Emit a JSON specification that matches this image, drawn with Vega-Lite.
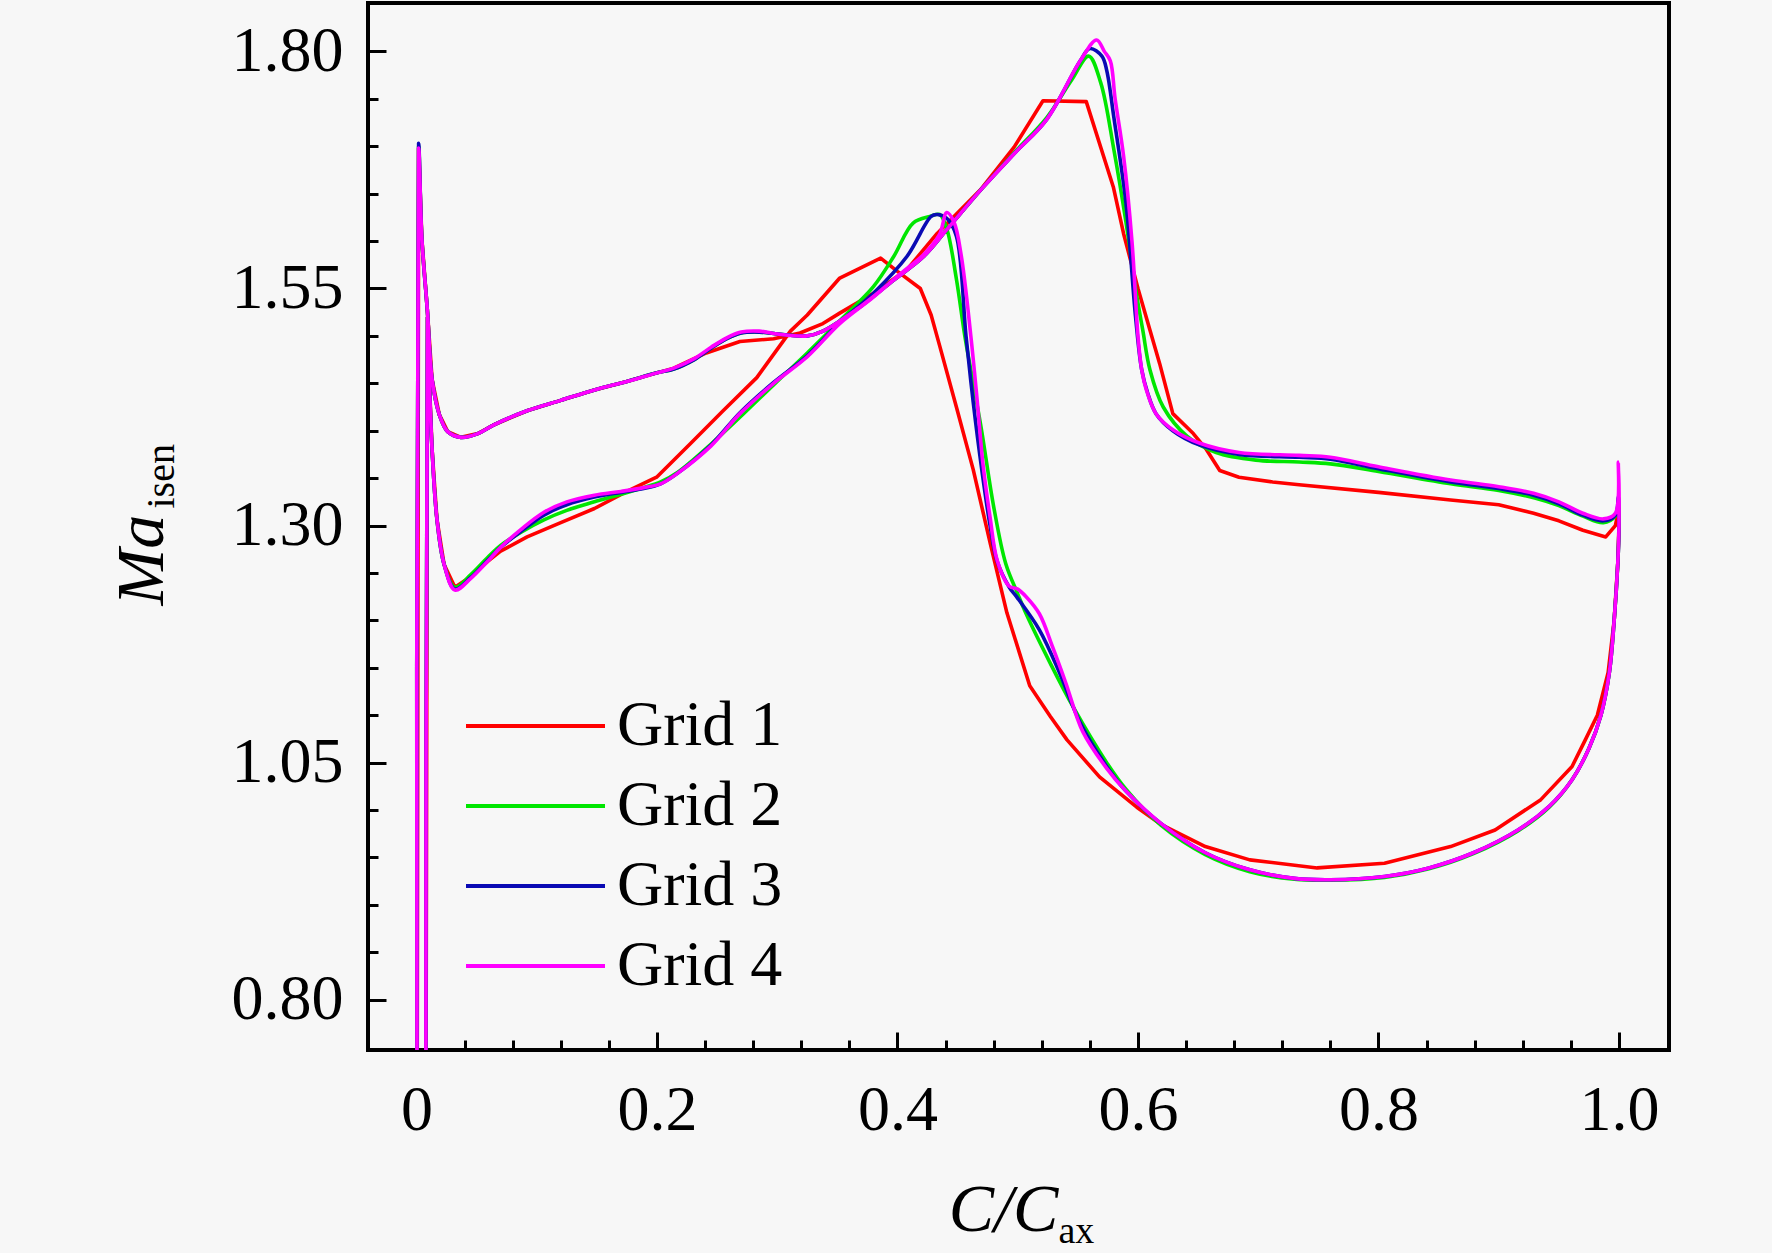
{
"$schema": "https://vega.github.io/schema/vega-lite/v6.json",
"width": 1301, "height": 1047,
"autosize": "none",
"padding": {"left": 368, "top": 3, "right": 103, "bottom": 203},
"background": "#F7F7F7",
"config": {"font": "Liberation Serif", "view": {"stroke": "#000000", "strokeWidth": 4}, "axis": {"grid": false, "domain": false, "labelFont": "Liberation Serif", "titleFont": "Liberation Serif", "labelColor": "#000000", "titleColor": "#000000", "tickColor": "#000000"}},
"datasets": {
"m": [
{"g":"Grid 4","i":0,"x":0.0005,"y":0.6},{"g":"Grid 4","i":1,"x":0.0018,"y":1.698},{"g":"Grid 4","i":2,"x":0.0045,"y":1.602},{"g":"Grid 4","i":3,"x":0.009,"y":1.528},{"g":"Grid 4","i":4,"x":0.013,"y":1.454},{"g":"Grid 4","i":5,"x":0.019,"y":1.417},{"g":"Grid 4","i":6,"x":0.026,"y":1.399},{"g":"Grid 4","i":7,"x":0.037,"y":1.393},{"g":"Grid 4","i":8,"x":0.051,"y":1.397},{"g":"Grid 4","i":9,"x":0.064,"y":1.406},{"g":"Grid 4","i":10,"x":0.092,"y":1.421},{"g":"Grid 4","i":11,"x":0.12,"y":1.432},{"g":"Grid 4","i":12,"x":0.148,"y":1.443},{"g":"Grid 4","i":13,"x":0.175,"y":1.452},{"g":"Grid 4","i":14,"x":0.2,"y":1.461},{"g":"Grid 4","i":15,"x":0.214,"y":1.466},{"g":"Grid 4","i":16,"x":0.231,"y":1.476},{"g":"Grid 4","i":17,"x":0.245,"y":1.488},{"g":"Grid 4","i":18,"x":0.258,"y":1.498},{"g":"Grid 4","i":19,"x":0.27,"y":1.504},{"g":"Grid 4","i":20,"x":0.285,"y":1.505},{"g":"Grid 4","i":21,"x":0.3,"y":1.502},{"g":"Grid 4","i":22,"x":0.325,"y":1.5},{"g":"Grid 4","i":23,"x":0.338,"y":1.505},{"g":"Grid 4","i":24,"x":0.366,"y":1.528},{"g":"Grid 4","i":25,"x":0.394,"y":1.556},{"g":"Grid 4","i":26,"x":0.422,"y":1.584},{"g":"Grid 4","i":27,"x":0.441,"y":1.612},{"g":"Grid 4","i":28,"x":0.47,"y":1.655},{"g":"Grid 4","i":29,"x":0.497,"y":1.692},{"g":"Grid 4","i":30,"x":0.524,"y":1.728},{"g":"Grid 4","i":31,"x":0.552,"y":1.79},{"g":"Grid 4","i":32,"x":0.5656,"y":1.812},{"g":"Grid 4","i":33,"x":0.572,"y":1.8},{"g":"Grid 4","i":34,"x":0.577,"y":1.79},{"g":"Grid 4","i":35,"x":0.581,"y":1.75},{"g":"Grid 4","i":36,"x":0.588,"y":1.69},{"g":"Grid 4","i":37,"x":0.595,"y":1.6},{"g":"Grid 4","i":38,"x":0.6,"y":1.5},{"g":"Grid 4","i":39,"x":0.603,"y":1.465},{"g":"Grid 4","i":40,"x":0.607,"y":1.443},{"g":"Grid 4","i":41,"x":0.615,"y":1.418},{"g":"Grid 4","i":42,"x":0.629,"y":1.401},{"g":"Grid 4","i":43,"x":0.651,"y":1.387},{"g":"Grid 4","i":44,"x":0.684,"y":1.377},{"g":"Grid 4","i":45,"x":0.734,"y":1.374},{"g":"Grid 4","i":46,"x":0.76,"y":1.372},{"g":"Grid 4","i":47,"x":0.8,"y":1.362},{"g":"Grid 4","i":48,"x":0.86,"y":1.348},{"g":"Grid 4","i":49,"x":0.9,"y":1.341},{"g":"Grid 4","i":50,"x":0.929,"y":1.334},{"g":"Grid 4","i":51,"x":0.95,"y":1.325},{"g":"Grid 4","i":52,"x":0.97,"y":1.313},{"g":"Grid 4","i":53,"x":0.987,"y":1.307},{"g":"Grid 4","i":54,"x":0.997,"y":1.313},{"g":"Grid 4","i":55,"x":0.9995,"y":1.367},{"g":"Grid 4","i":56,"x":1.0,"y":1.3},{"g":"Grid 4","i":57,"x":0.999,"y":1.26},{"g":"Grid 4","i":58,"x":0.996,"y":1.2},{"g":"Grid 4","i":59,"x":0.992,"y":1.145},{"g":"Grid 4","i":60,"x":0.985,"y":1.1},{"g":"Grid 4","i":61,"x":0.975,"y":1.065},{"g":"Grid 4","i":62,"x":0.961,"y":1.032},{"g":"Grid 4","i":63,"x":0.942,"y":1.004},{"g":"Grid 4","i":64,"x":0.916,"y":0.979},{"g":"Grid 4","i":65,"x":0.879,"y":0.955},{"g":"Grid 4","i":66,"x":0.842,"y":0.939},{"g":"Grid 4","i":67,"x":0.805,"y":0.93},{"g":"Grid 4","i":68,"x":0.76,"y":0.9265},{"g":"Grid 4","i":69,"x":0.73,"y":0.928},{"g":"Grid 4","i":70,"x":0.693,"y":0.937},{"g":"Grid 4","i":71,"x":0.656,"y":0.955},{"g":"Grid 4","i":72,"x":0.619,"y":0.986},{"g":"Grid 4","i":73,"x":0.59,"y":1.02},{"g":"Grid 4","i":74,"x":0.574,"y":1.044},{"g":"Grid 4","i":75,"x":0.554,"y":1.083},{"g":"Grid 4","i":76,"x":0.54,"y":1.134},{"g":"Grid 4","i":77,"x":0.529,"y":1.172},{"g":"Grid 4","i":78,"x":0.518,"y":1.207},{"g":"Grid 4","i":79,"x":0.507,"y":1.225},{"g":"Grid 4","i":80,"x":0.5,"y":1.233},{"g":"Grid 4","i":81,"x":0.493,"y":1.236},{"g":"Grid 4","i":82,"x":0.483,"y":1.263},{"g":"Grid 4","i":83,"x":0.477,"y":1.309},{"g":"Grid 4","i":84,"x":0.471,"y":1.366},{"g":"Grid 4","i":85,"x":0.466,"y":1.436},{"g":"Grid 4","i":86,"x":0.461,"y":1.5},{"g":"Grid 4","i":87,"x":0.453,"y":1.585},{"g":"Grid 4","i":88,"x":0.447,"y":1.62},{"g":"Grid 4","i":89,"x":0.441,"y":1.63},{"g":"Grid 4","i":90,"x":0.435,"y":1.607},{"g":"Grid 4","i":91,"x":0.422,"y":1.586},{"g":"Grid 4","i":92,"x":0.402,"y":1.565},{"g":"Grid 4","i":93,"x":0.38,"y":1.541},{"g":"Grid 4","i":94,"x":0.352,"y":1.513},{"g":"Grid 4","i":95,"x":0.325,"y":1.478},{"g":"Grid 4","i":96,"x":0.297,"y":1.45},{"g":"Grid 4","i":97,"x":0.269,"y":1.418},{"g":"Grid 4","i":98,"x":0.245,"y":1.384},{"g":"Grid 4","i":99,"x":0.217,"y":1.355},{"g":"Grid 4","i":100,"x":0.203,"y":1.344},{"g":"Grid 4","i":101,"x":0.189,"y":1.34},{"g":"Grid 4","i":102,"x":0.17,"y":1.336},{"g":"Grid 4","i":103,"x":0.148,"y":1.332},{"g":"Grid 4","i":104,"x":0.125,"y":1.325},{"g":"Grid 4","i":105,"x":0.106,"y":1.314},{"g":"Grid 4","i":106,"x":0.087,"y":1.296},{"g":"Grid 4","i":107,"x":0.07,"y":1.277},{"g":"Grid 4","i":108,"x":0.059,"y":1.262},{"g":"Grid 4","i":109,"x":0.045,"y":1.244},{"g":"Grid 4","i":110,"x":0.032,"y":1.232},{"g":"Grid 4","i":111,"x":0.023,"y":1.259},{"g":"Grid 4","i":112,"x":0.017,"y":1.307},{"g":"Grid 4","i":113,"x":0.013,"y":1.38},{"g":"Grid 4","i":114,"x":0.0105,"y":1.46},{"g":"Grid 4","i":115,"x":0.0092,"y":1.52},{"g":"Grid 4","i":116,"x":0.0078,"y":0.6}
],
"b": [
{"g":"Grid 3","i":0,"x":0.0005,"y":0.6},{"g":"Grid 3","i":1,"x":0.0018,"y":1.703},{"g":"Grid 3","i":2,"x":0.0045,"y":1.602},{"g":"Grid 3","i":3,"x":0.009,"y":1.528},{"g":"Grid 3","i":4,"x":0.013,"y":1.454},{"g":"Grid 3","i":5,"x":0.019,"y":1.417},{"g":"Grid 3","i":6,"x":0.026,"y":1.399},{"g":"Grid 3","i":7,"x":0.037,"y":1.393},{"g":"Grid 3","i":8,"x":0.051,"y":1.397},{"g":"Grid 3","i":9,"x":0.064,"y":1.406},{"g":"Grid 3","i":10,"x":0.092,"y":1.421},{"g":"Grid 3","i":11,"x":0.12,"y":1.432},{"g":"Grid 3","i":12,"x":0.148,"y":1.443},{"g":"Grid 3","i":13,"x":0.175,"y":1.452},{"g":"Grid 3","i":14,"x":0.2,"y":1.461},{"g":"Grid 3","i":15,"x":0.214,"y":1.465},{"g":"Grid 3","i":16,"x":0.231,"y":1.475},{"g":"Grid 3","i":17,"x":0.245,"y":1.487},{"g":"Grid 3","i":18,"x":0.258,"y":1.497},{"g":"Grid 3","i":19,"x":0.27,"y":1.503},{"g":"Grid 3","i":20,"x":0.285,"y":1.504},{"g":"Grid 3","i":21,"x":0.3,"y":1.502},{"g":"Grid 3","i":22,"x":0.325,"y":1.5},{"g":"Grid 3","i":23,"x":0.338,"y":1.505},{"g":"Grid 3","i":24,"x":0.366,"y":1.528},{"g":"Grid 3","i":25,"x":0.394,"y":1.556},{"g":"Grid 3","i":26,"x":0.422,"y":1.584},{"g":"Grid 3","i":27,"x":0.441,"y":1.612},{"g":"Grid 3","i":28,"x":0.47,"y":1.655},{"g":"Grid 3","i":29,"x":0.497,"y":1.692},{"g":"Grid 3","i":30,"x":0.524,"y":1.728},{"g":"Grid 3","i":31,"x":0.552,"y":1.79},{"g":"Grid 3","i":32,"x":0.56,"y":1.803},{"g":"Grid 3","i":33,"x":0.57,"y":1.795},{"g":"Grid 3","i":34,"x":0.574,"y":1.78},{"g":"Grid 3","i":35,"x":0.58,"y":1.73},{"g":"Grid 3","i":36,"x":0.59,"y":1.64},{"g":"Grid 3","i":37,"x":0.598,"y":1.52},{"g":"Grid 3","i":38,"x":0.603,"y":1.465},{"g":"Grid 3","i":39,"x":0.608,"y":1.44},{"g":"Grid 3","i":40,"x":0.615,"y":1.418},{"g":"Grid 3","i":41,"x":0.629,"y":1.4},{"g":"Grid 3","i":42,"x":0.651,"y":1.385},{"g":"Grid 3","i":43,"x":0.684,"y":1.375},{"g":"Grid 3","i":44,"x":0.734,"y":1.372},{"g":"Grid 3","i":45,"x":0.76,"y":1.37},{"g":"Grid 3","i":46,"x":0.8,"y":1.36},{"g":"Grid 3","i":47,"x":0.86,"y":1.346},{"g":"Grid 3","i":48,"x":0.9,"y":1.339},{"g":"Grid 3","i":49,"x":0.929,"y":1.332},{"g":"Grid 3","i":50,"x":0.95,"y":1.323},{"g":"Grid 3","i":51,"x":0.97,"y":1.311},{"g":"Grid 3","i":52,"x":0.987,"y":1.305},{"g":"Grid 3","i":53,"x":0.997,"y":1.311},{"g":"Grid 3","i":54,"x":0.9995,"y":1.33},{"g":"Grid 3","i":55,"x":1.0,"y":1.3},{"g":"Grid 3","i":56,"x":0.999,"y":1.26},{"g":"Grid 3","i":57,"x":0.996,"y":1.2},{"g":"Grid 3","i":58,"x":0.992,"y":1.145},{"g":"Grid 3","i":59,"x":0.985,"y":1.1},{"g":"Grid 3","i":60,"x":0.975,"y":1.065},{"g":"Grid 3","i":61,"x":0.961,"y":1.032},{"g":"Grid 3","i":62,"x":0.942,"y":1.004},{"g":"Grid 3","i":63,"x":0.916,"y":0.979},{"g":"Grid 3","i":64,"x":0.879,"y":0.955},{"g":"Grid 3","i":65,"x":0.842,"y":0.939},{"g":"Grid 3","i":66,"x":0.805,"y":0.93},{"g":"Grid 3","i":67,"x":0.76,"y":0.9265},{"g":"Grid 3","i":68,"x":0.73,"y":0.928},{"g":"Grid 3","i":69,"x":0.693,"y":0.937},{"g":"Grid 3","i":70,"x":0.656,"y":0.955},{"g":"Grid 3","i":71,"x":0.619,"y":0.986},{"g":"Grid 3","i":72,"x":0.59,"y":1.02},{"g":"Grid 3","i":73,"x":0.574,"y":1.046},{"g":"Grid 3","i":74,"x":0.552,"y":1.092},{"g":"Grid 3","i":75,"x":0.535,"y":1.144},{"g":"Grid 3","i":76,"x":0.518,"y":1.19},{"g":"Grid 3","i":77,"x":0.499,"y":1.225},{"g":"Grid 3","i":78,"x":0.493,"y":1.235},{"g":"Grid 3","i":79,"x":0.483,"y":1.262},{"g":"Grid 3","i":80,"x":0.477,"y":1.3},{"g":"Grid 3","i":81,"x":0.47,"y":1.36},{"g":"Grid 3","i":82,"x":0.463,"y":1.43},{"g":"Grid 3","i":83,"x":0.457,"y":1.5},{"g":"Grid 3","i":84,"x":0.449,"y":1.605},{"g":"Grid 3","i":85,"x":0.441,"y":1.624},{"g":"Grid 3","i":86,"x":0.433,"y":1.628},{"g":"Grid 3","i":87,"x":0.428,"y":1.626},{"g":"Grid 3","i":88,"x":0.408,"y":1.584},{"g":"Grid 3","i":89,"x":0.38,"y":1.545},{"g":"Grid 3","i":90,"x":0.352,"y":1.514},{"g":"Grid 3","i":91,"x":0.325,"y":1.479},{"g":"Grid 3","i":92,"x":0.297,"y":1.451},{"g":"Grid 3","i":93,"x":0.269,"y":1.419},{"g":"Grid 3","i":94,"x":0.245,"y":1.385},{"g":"Grid 3","i":95,"x":0.217,"y":1.355},{"g":"Grid 3","i":96,"x":0.203,"y":1.344},{"g":"Grid 3","i":97,"x":0.189,"y":1.339},{"g":"Grid 3","i":98,"x":0.17,"y":1.335},{"g":"Grid 3","i":99,"x":0.148,"y":1.33},{"g":"Grid 3","i":100,"x":0.125,"y":1.322},{"g":"Grid 3","i":101,"x":0.106,"y":1.311},{"g":"Grid 3","i":102,"x":0.087,"y":1.294},{"g":"Grid 3","i":103,"x":0.07,"y":1.277},{"g":"Grid 3","i":104,"x":0.059,"y":1.263},{"g":"Grid 3","i":105,"x":0.045,"y":1.245},{"g":"Grid 3","i":106,"x":0.032,"y":1.233},{"g":"Grid 3","i":107,"x":0.023,"y":1.259},{"g":"Grid 3","i":108,"x":0.017,"y":1.307},{"g":"Grid 3","i":109,"x":0.013,"y":1.38},{"g":"Grid 3","i":110,"x":0.0105,"y":1.46},{"g":"Grid 3","i":111,"x":0.0092,"y":1.52},{"g":"Grid 3","i":112,"x":0.0078,"y":0.6}
],
"gr": [
{"g":"Grid 2","i":0,"x":0.0005,"y":0.6},{"g":"Grid 2","i":1,"x":0.0018,"y":1.7},{"g":"Grid 2","i":2,"x":0.0045,"y":1.602},{"g":"Grid 2","i":3,"x":0.009,"y":1.528},{"g":"Grid 2","i":4,"x":0.013,"y":1.454},{"g":"Grid 2","i":5,"x":0.019,"y":1.417},{"g":"Grid 2","i":6,"x":0.026,"y":1.399},{"g":"Grid 2","i":7,"x":0.037,"y":1.393},{"g":"Grid 2","i":8,"x":0.051,"y":1.397},{"g":"Grid 2","i":9,"x":0.064,"y":1.406},{"g":"Grid 2","i":10,"x":0.092,"y":1.421},{"g":"Grid 2","i":11,"x":0.12,"y":1.432},{"g":"Grid 2","i":12,"x":0.148,"y":1.443},{"g":"Grid 2","i":13,"x":0.175,"y":1.452},{"g":"Grid 2","i":14,"x":0.2,"y":1.461},{"g":"Grid 2","i":15,"x":0.214,"y":1.465},{"g":"Grid 2","i":16,"x":0.231,"y":1.475},{"g":"Grid 2","i":17,"x":0.245,"y":1.487},{"g":"Grid 2","i":18,"x":0.258,"y":1.497},{"g":"Grid 2","i":19,"x":0.27,"y":1.503},{"g":"Grid 2","i":20,"x":0.285,"y":1.504},{"g":"Grid 2","i":21,"x":0.3,"y":1.502},{"g":"Grid 2","i":22,"x":0.325,"y":1.5},{"g":"Grid 2","i":23,"x":0.338,"y":1.505},{"g":"Grid 2","i":24,"x":0.366,"y":1.528},{"g":"Grid 2","i":25,"x":0.394,"y":1.556},{"g":"Grid 2","i":26,"x":0.422,"y":1.584},{"g":"Grid 2","i":27,"x":0.441,"y":1.612},{"g":"Grid 2","i":28,"x":0.47,"y":1.655},{"g":"Grid 2","i":29,"x":0.497,"y":1.693},{"g":"Grid 2","i":30,"x":0.524,"y":1.73},{"g":"Grid 2","i":31,"x":0.545,"y":1.77},{"g":"Grid 2","i":32,"x":0.559,"y":1.795},{"g":"Grid 2","i":33,"x":0.569,"y":1.767},{"g":"Grid 2","i":34,"x":0.58,"y":1.696},{"g":"Grid 2","i":35,"x":0.59,"y":1.62},{"g":"Grid 2","i":36,"x":0.598,"y":1.55},{"g":"Grid 2","i":37,"x":0.604,"y":1.506},{"g":"Grid 2","i":38,"x":0.61,"y":1.464},{"g":"Grid 2","i":39,"x":0.621,"y":1.425},{"g":"Grid 2","i":40,"x":0.641,"y":1.394},{"g":"Grid 2","i":41,"x":0.665,"y":1.377},{"g":"Grid 2","i":42,"x":0.698,"y":1.369},{"g":"Grid 2","i":43,"x":0.734,"y":1.367},{"g":"Grid 2","i":44,"x":0.76,"y":1.365},{"g":"Grid 2","i":45,"x":0.8,"y":1.357},{"g":"Grid 2","i":46,"x":0.86,"y":1.344},{"g":"Grid 2","i":47,"x":0.9,"y":1.337},{"g":"Grid 2","i":48,"x":0.93,"y":1.329},{"g":"Grid 2","i":49,"x":0.95,"y":1.321},{"g":"Grid 2","i":50,"x":0.97,"y":1.31},{"g":"Grid 2","i":51,"x":0.987,"y":1.303},{"g":"Grid 2","i":52,"x":0.997,"y":1.31},{"g":"Grid 2","i":53,"x":0.9995,"y":1.32},{"g":"Grid 2","i":54,"x":1.0,"y":1.3},{"g":"Grid 2","i":55,"x":0.999,"y":1.26},{"g":"Grid 2","i":56,"x":0.996,"y":1.2},{"g":"Grid 2","i":57,"x":0.992,"y":1.145},{"g":"Grid 2","i":58,"x":0.985,"y":1.1},{"g":"Grid 2","i":59,"x":0.975,"y":1.065},{"g":"Grid 2","i":60,"x":0.961,"y":1.032},{"g":"Grid 2","i":61,"x":0.942,"y":1.003},{"g":"Grid 2","i":62,"x":0.916,"y":0.978},{"g":"Grid 2","i":63,"x":0.879,"y":0.954},{"g":"Grid 2","i":64,"x":0.842,"y":0.938},{"g":"Grid 2","i":65,"x":0.805,"y":0.929},{"g":"Grid 2","i":66,"x":0.76,"y":0.926},{"g":"Grid 2","i":67,"x":0.73,"y":0.927},{"g":"Grid 2","i":68,"x":0.693,"y":0.935},{"g":"Grid 2","i":69,"x":0.656,"y":0.953},{"g":"Grid 2","i":70,"x":0.619,"y":0.984},{"g":"Grid 2","i":71,"x":0.59,"y":1.022},{"g":"Grid 2","i":72,"x":0.574,"y":1.05},{"g":"Grid 2","i":73,"x":0.546,"y":1.109},{"g":"Grid 2","i":74,"x":0.527,"y":1.155},{"g":"Grid 2","i":75,"x":0.507,"y":1.207},{"g":"Grid 2","i":76,"x":0.5,"y":1.228},{"g":"Grid 2","i":77,"x":0.49,"y":1.26},{"g":"Grid 2","i":78,"x":0.48,"y":1.32},{"g":"Grid 2","i":79,"x":0.47,"y":1.4},{"g":"Grid 2","i":80,"x":0.463,"y":1.45},{"g":"Grid 2","i":81,"x":0.456,"y":1.5},{"g":"Grid 2","i":82,"x":0.449,"y":1.56},{"g":"Grid 2","i":83,"x":0.441,"y":1.613},{"g":"Grid 2","i":84,"x":0.435,"y":1.628},{"g":"Grid 2","i":85,"x":0.427,"y":1.626},{"g":"Grid 2","i":86,"x":0.413,"y":1.619},{"g":"Grid 2","i":87,"x":0.397,"y":1.584},{"g":"Grid 2","i":88,"x":0.38,"y":1.552},{"g":"Grid 2","i":89,"x":0.352,"y":1.516},{"g":"Grid 2","i":90,"x":0.325,"y":1.482},{"g":"Grid 2","i":91,"x":0.3,"y":1.452},{"g":"Grid 2","i":92,"x":0.272,"y":1.418},{"g":"Grid 2","i":93,"x":0.245,"y":1.386},{"g":"Grid 2","i":94,"x":0.217,"y":1.356},{"g":"Grid 2","i":95,"x":0.203,"y":1.346},{"g":"Grid 2","i":96,"x":0.189,"y":1.34},{"g":"Grid 2","i":97,"x":0.17,"y":1.333},{"g":"Grid 2","i":98,"x":0.148,"y":1.325},{"g":"Grid 2","i":99,"x":0.125,"y":1.316},{"g":"Grid 2","i":100,"x":0.106,"y":1.306},{"g":"Grid 2","i":101,"x":0.087,"y":1.293},{"g":"Grid 2","i":102,"x":0.07,"y":1.279},{"g":"Grid 2","i":103,"x":0.059,"y":1.266},{"g":"Grid 2","i":104,"x":0.045,"y":1.248},{"g":"Grid 2","i":105,"x":0.032,"y":1.235},{"g":"Grid 2","i":106,"x":0.023,"y":1.259},{"g":"Grid 2","i":107,"x":0.017,"y":1.307},{"g":"Grid 2","i":108,"x":0.013,"y":1.38},{"g":"Grid 2","i":109,"x":0.0105,"y":1.46},{"g":"Grid 2","i":110,"x":0.0092,"y":1.52},{"g":"Grid 2","i":111,"x":0.0078,"y":0.6}
],
"r": [
{"g":"Grid 1","i":0,"x":0.0005,"y":0.6},{"g":"Grid 1","i":1,"x":0.0018,"y":1.698},{"g":"Grid 1","i":2,"x":0.0045,"y":1.602},{"g":"Grid 1","i":3,"x":0.009,"y":1.528},{"g":"Grid 1","i":4,"x":0.013,"y":1.454},{"g":"Grid 1","i":5,"x":0.019,"y":1.417},{"g":"Grid 1","i":6,"x":0.026,"y":1.399},{"g":"Grid 1","i":7,"x":0.037,"y":1.393},{"g":"Grid 1","i":8,"x":0.051,"y":1.397},{"g":"Grid 1","i":9,"x":0.064,"y":1.406},{"g":"Grid 1","i":10,"x":0.092,"y":1.421},{"g":"Grid 1","i":11,"x":0.12,"y":1.432},{"g":"Grid 1","i":12,"x":0.148,"y":1.443},{"g":"Grid 1","i":13,"x":0.175,"y":1.452},{"g":"Grid 1","i":14,"x":0.2,"y":1.461},{"g":"Grid 1","i":15,"x":0.214,"y":1.466},{"g":"Grid 1","i":16,"x":0.241,"y":1.482},{"g":"Grid 1","i":17,"x":0.269,"y":1.494},{"g":"Grid 1","i":18,"x":0.297,"y":1.497},{"g":"Grid 1","i":19,"x":0.319,"y":1.503},{"g":"Grid 1","i":20,"x":0.338,"y":1.513},{"g":"Grid 1","i":21,"x":0.352,"y":1.524},{"g":"Grid 1","i":22,"x":0.38,"y":1.545},{"g":"Grid 1","i":23,"x":0.408,"y":1.57},{"g":"Grid 1","i":24,"x":0.433,"y":1.608},{"g":"Grid 1","i":25,"x":0.469,"y":1.654},{"g":"Grid 1","i":26,"x":0.497,"y":1.699},{"g":"Grid 1","i":27,"x":0.521,"y":1.748},{"g":"Grid 1","i":28,"x":0.557,"y":1.747},{"g":"Grid 1","i":29,"x":0.5795,"y":1.657},{"g":"Grid 1","i":30,"x":0.588,"y":1.608},{"g":"Grid 1","i":31,"x":0.6,"y":1.55},{"g":"Grid 1","i":32,"x":0.61,"y":1.506},{"g":"Grid 1","i":33,"x":0.618,"y":1.471},{"g":"Grid 1","i":34,"x":0.629,"y":1.418},{"g":"Grid 1","i":35,"x":0.646,"y":1.397},{"g":"Grid 1","i":36,"x":0.657,"y":1.38},{"g":"Grid 1","i":37,"x":0.668,"y":1.358},{"g":"Grid 1","i":38,"x":0.684,"y":1.351},{"g":"Grid 1","i":39,"x":0.712,"y":1.346},{"g":"Grid 1","i":40,"x":0.734,"y":1.343},{"g":"Grid 1","i":41,"x":0.8,"y":1.335},{"g":"Grid 1","i":42,"x":0.86,"y":1.327},{"g":"Grid 1","i":43,"x":0.9,"y":1.322},{"g":"Grid 1","i":44,"x":0.929,"y":1.313},{"g":"Grid 1","i":45,"x":0.95,"y":1.305},{"g":"Grid 1","i":46,"x":0.97,"y":1.295},{"g":"Grid 1","i":47,"x":0.989,"y":1.288},{"g":"Grid 1","i":48,"x":0.997,"y":1.3},{"g":"Grid 1","i":49,"x":0.9995,"y":1.315},{"g":"Grid 1","i":50,"x":1.0,"y":1.3},{"g":"Grid 1","i":51,"x":0.999,"y":1.26},{"g":"Grid 1","i":52,"x":0.996,"y":1.2},{"g":"Grid 1","i":53,"x":0.991,"y":1.145},{"g":"Grid 1","i":54,"x":0.982,"y":1.1},{"g":"Grid 1","i":55,"x":0.972,"y":1.074},{"g":"Grid 1","i":56,"x":0.961,"y":1.046},{"g":"Grid 1","i":57,"x":0.935,"y":1.011},{"g":"Grid 1","i":58,"x":0.897,"y":0.979},{"g":"Grid 1","i":59,"x":0.86,"y":0.9615},{"g":"Grid 1","i":60,"x":0.805,"y":0.944},{"g":"Grid 1","i":61,"x":0.749,"y":0.939},{"g":"Grid 1","i":62,"x":0.693,"y":0.9475},{"g":"Grid 1","i":63,"x":0.656,"y":0.9615},{"g":"Grid 1","i":64,"x":0.619,"y":0.985},{"g":"Grid 1","i":65,"x":0.599,"y":1.003},{"g":"Grid 1","i":66,"x":0.568,"y":1.035},{"g":"Grid 1","i":67,"x":0.541,"y":1.074},{"g":"Grid 1","i":68,"x":0.527,"y":1.099},{"g":"Grid 1","i":69,"x":0.51,"y":1.131},{"g":"Grid 1","i":70,"x":0.491,"y":1.208},{"g":"Grid 1","i":71,"x":0.477,"y":1.282},{"g":"Grid 1","i":72,"x":0.463,"y":1.359},{"g":"Grid 1","i":73,"x":0.449,"y":1.425},{"g":"Grid 1","i":74,"x":0.435,"y":1.49},{"g":"Grid 1","i":75,"x":0.428,"y":1.522},{"g":"Grid 1","i":76,"x":0.419,"y":1.55},{"g":"Grid 1","i":77,"x":0.4,"y":1.568},{"g":"Grid 1","i":78,"x":0.386,"y":1.582},{"g":"Grid 1","i":79,"x":0.352,"y":1.561},{"g":"Grid 1","i":80,"x":0.325,"y":1.522},{"g":"Grid 1","i":81,"x":0.311,"y":1.505},{"g":"Grid 1","i":82,"x":0.283,"y":1.456},{"g":"Grid 1","i":83,"x":0.255,"y":1.421},{"g":"Grid 1","i":84,"x":0.2275,"y":1.386},{"g":"Grid 1","i":85,"x":0.1997,"y":1.351},{"g":"Grid 1","i":86,"x":0.175,"y":1.336},{"g":"Grid 1","i":87,"x":0.148,"y":1.318},{"g":"Grid 1","i":88,"x":0.12,"y":1.303},{"g":"Grid 1","i":89,"x":0.092,"y":1.288},{"g":"Grid 1","i":90,"x":0.07,"y":1.273},{"g":"Grid 1","i":91,"x":0.059,"y":1.262},{"g":"Grid 1","i":92,"x":0.045,"y":1.246},{"g":"Grid 1","i":93,"x":0.032,"y":1.235},{"g":"Grid 1","i":94,"x":0.023,"y":1.259},{"g":"Grid 1","i":95,"x":0.017,"y":1.307},{"g":"Grid 1","i":96,"x":0.013,"y":1.38},{"g":"Grid 1","i":97,"x":0.0105,"y":1.46},{"g":"Grid 1","i":98,"x":0.0092,"y":1.52},{"g":"Grid 1","i":99,"x":0.0078,"y":0.6}
]
},
"layer": [
{"data": {"name": "r"},
 "mark": {"type": "line", "strokeWidth": 3.6, "clip": true, "strokeJoin": "round"},
 "encoding": {
  "x": {"field": "x", "type": "quantitative", "scale": {"domain": [-0.0403, 1.0416], "nice": false, "zero": false},
        "axis": {"orient": "bottom", "values": [0, 0.2, 0.4, 0.6, 0.8, 1.0], "labelExpr": "datum.value == 0 ? '0' : format(datum.value, '.1f')", "labelFontSize": 64, "labelPadding": 28, "ticks": false, "tickSize": 0, "labelFlush": false, "labelOverlap": false,
                 "title": "C/C", "titleFontSize": 68, "titleFontStyle": "italic", "titleFontWeight": "normal", "titleX": 635, "titleY": 180, "titleAlign": "center", "titleBaseline": "alphabetic", "titleAngle": 0}},
  "y": {"field": "y", "type": "quantitative", "scale": {"domain": [0.747, 1.851], "nice": false, "zero": false},
        "axis": {"orient": "left", "values": [0.8, 1.05, 1.3, 1.55, 1.8], "format": ".2f", "labelFontSize": 64, "labelPadding": 25, "ticks": false, "tickSize": 0, "labelFlush": false, "labelOverlap": false,
                 "title": "Ma", "titleFontSize": 68, "titleFontStyle": "italic", "titleFontWeight": "normal", "titleAngle": -90, "titleX": -206, "titleY": 602, "titleAlign": "left", "titleBaseline": "alphabetic"}},
  "color": {"field": "g", "type": "nominal", "scale": {"domain": ["Grid 1", "Grid 2", "Grid 3", "Grid 4"], "range": ["#FF0000", "#00E600", "#0A0AB4", "#FF00FF"]},
            "legend": {"orient": "none", "legendX": 96, "legendY": 691, "title": null, "symbolType": "stroke", "symbolSize": 19321, "symbolStrokeWidth": 4, "labelFontSize": 64, "labelFont": "Liberation Serif", "labelColor": "#000000", "labelOffset": 10, "rowPadding": 16, "clipHeight": 64, "padding": 0, "labelLimit": 0}},
  "order": {"field": "i", "type": "quantitative"}
 }},
{"data": {"name": "gr"},
 "mark": {"type": "line", "strokeWidth": 3.6, "clip": true, "strokeJoin": "round", "interpolate": "catmull-rom"},
 "encoding": {
  "x": {"field": "x", "type": "quantitative", "scale": {"domain": [-0.0403, 1.0416], "nice": false, "zero": false}, "axis": null},
  "y": {"field": "y", "type": "quantitative", "scale": {"domain": [0.747, 1.851], "nice": false, "zero": false}, "axis": null},
  "color": {"field": "g", "type": "nominal", "scale": {"domain": ["Grid 1", "Grid 2", "Grid 3", "Grid 4"], "range": ["#FF0000", "#00E600", "#0A0AB4", "#FF00FF"]},
            "legend": {"orient": "none", "legendX": 96, "legendY": 691, "title": null, "symbolType": "stroke", "symbolSize": 19321, "symbolStrokeWidth": 4, "labelFontSize": 64, "labelFont": "Liberation Serif", "labelColor": "#000000", "labelOffset": 10, "rowPadding": 16, "clipHeight": 64, "padding": 0, "labelLimit": 0}},
  "order": {"field": "i", "type": "quantitative"}
 }},
{"data": {"name": "b"},
 "mark": {"type": "line", "strokeWidth": 3.6, "clip": true, "strokeJoin": "round", "interpolate": "catmull-rom"},
 "encoding": {
  "x": {"field": "x", "type": "quantitative", "scale": {"domain": [-0.0403, 1.0416], "nice": false, "zero": false}, "axis": null},
  "y": {"field": "y", "type": "quantitative", "scale": {"domain": [0.747, 1.851], "nice": false, "zero": false}, "axis": null},
  "color": {"field": "g", "type": "nominal", "scale": {"domain": ["Grid 1", "Grid 2", "Grid 3", "Grid 4"], "range": ["#FF0000", "#00E600", "#0A0AB4", "#FF00FF"]},
            "legend": {"orient": "none", "legendX": 96, "legendY": 691, "title": null, "symbolType": "stroke", "symbolSize": 19321, "symbolStrokeWidth": 4, "labelFontSize": 64, "labelFont": "Liberation Serif", "labelColor": "#000000", "labelOffset": 10, "rowPadding": 16, "clipHeight": 64, "padding": 0, "labelLimit": 0}},
  "order": {"field": "i", "type": "quantitative"}
 }},
{"data": {"name": "m"},
 "mark": {"type": "line", "strokeWidth": 3.6, "clip": true, "strokeJoin": "round", "interpolate": "catmull-rom"},
 "encoding": {
  "x": {"field": "x", "type": "quantitative", "scale": {"domain": [-0.0403, 1.0416], "nice": false, "zero": false}, "axis": null},
  "y": {"field": "y", "type": "quantitative", "scale": {"domain": [0.747, 1.851], "nice": false, "zero": false}, "axis": null},
  "color": {"field": "g", "type": "nominal", "scale": {"domain": ["Grid 1", "Grid 2", "Grid 3", "Grid 4"], "range": ["#FF0000", "#00E600", "#0A0AB4", "#FF00FF"]},
            "legend": {"orient": "none", "legendX": 96, "legendY": 691, "title": null, "symbolType": "stroke", "symbolSize": 19321, "symbolStrokeWidth": 4, "labelFontSize": 64, "labelFont": "Liberation Serif", "labelColor": "#000000", "labelOffset": 10, "rowPadding": 16, "clipHeight": 64, "padding": 0, "labelLimit": 0}},
  "order": {"field": "i", "type": "quantitative"}
 }},
{"data": {"name": "r"},
 "mark": {"type": "point", "opacity": 0},
 "encoding": {
  "x": {"field": "x", "type": "quantitative", "scale": {"domain": [-0.0403, 1.0416], "nice": false, "zero": false},
        "axis": {"orient": "bottom", "values": [0, 0.2, 0.4, 0.6, 0.8, 1.0], "labels": false, "ticks": true, "tickSize": -18, "tickWidth": 3, "domain": false,
                 "title": "ax", "titleFontSize": 38, "titleFontStyle": "normal", "titleFontWeight": "normal", "titleX": 690, "titleY": 192, "titleAlign": "left", "titleBaseline": "alphabetic", "titleAngle": 0}},
  "y": {"field": "y", "type": "quantitative", "scale": {"domain": [0.747, 1.851], "nice": false, "zero": false},
        "axis": {"orient": "left", "values": [0.8, 1.05, 1.3, 1.55, 1.8], "labels": false, "ticks": true, "tickSize": -18, "tickWidth": 3, "domain": false,
                 "title": "isen", "titleFontSize": 40, "titleFontStyle": "normal", "titleFontWeight": "normal", "titleAngle": -90, "titleX": -195, "titleY": 505, "titleAlign": "left", "titleBaseline": "alphabetic"}}
 }},
{"data": {"name": "r"},
 "mark": {"type": "point", "opacity": 0},
 "encoding": {
  "x": {"field": "x", "type": "quantitative", "scale": {"domain": [-0.0403, 1.0416], "nice": false, "zero": false},
        "axis": {"orient": "bottom", "values": [0.04, 0.08, 0.12, 0.16, 0.24, 0.28, 0.32, 0.36, 0.44, 0.48, 0.52, 0.56, 0.64, 0.68, 0.72, 0.76, 0.84, 0.88, 0.92, 0.96], "labels": false, "ticks": true, "tickSize": -10, "tickWidth": 3, "domain": false, "title": null}},
  "y": {"field": "y", "type": "quantitative", "scale": {"domain": [0.747, 1.851], "nice": false, "zero": false},
        "axis": {"orient": "left", "values": [0.85, 0.9, 0.95, 1.0, 1.1, 1.15, 1.2, 1.25, 1.35, 1.4, 1.45, 1.5, 1.6, 1.65, 1.7, 1.75], "labels": false, "ticks": true, "tickSize": -10, "tickWidth": 3, "domain": false, "title": null}}
 }}
],
"resolve": {"axis": {"x": "independent", "y": "independent"}}
}
